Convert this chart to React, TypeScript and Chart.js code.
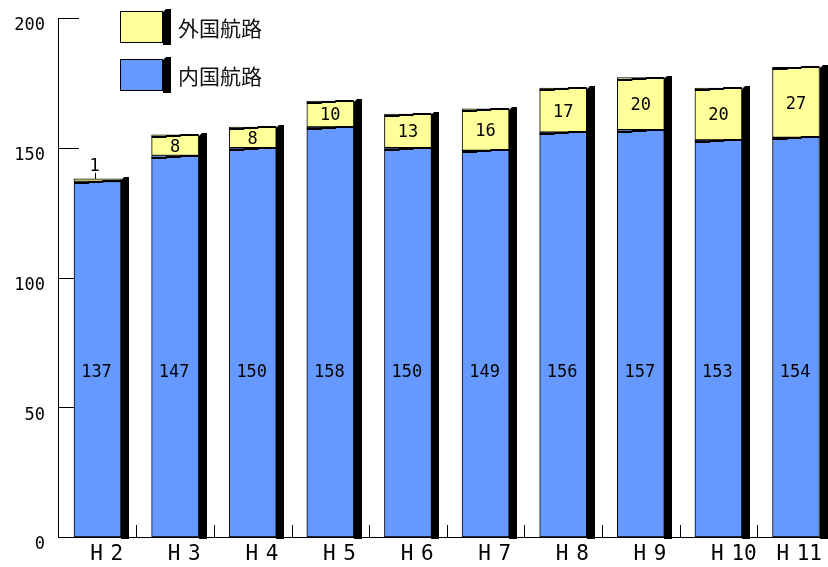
import { useEffect, useRef } from "react";
import { Chart, registerables } from "chart.js";

Chart.register(...registerables);

// Heisei years on the horizontal axis and their printed labels
const YEARS = [2, 3, 4, 5, 6, 7, 8, 9, 10, 11];
const CATEGORIES = ["H 2", "H 3", "H 4", "H 5", "H 6", "H 7", "H 8", "H 9", "H 10", "H 11"];
// Number of routes per year
const DOMESTIC = [137, 147, 150, 158, 150, 149, 156, 157, 153, 154];
const FOREIGN = [1, 8, 8, 10, 13, 16, 17, 20, 20, 27];
const Y_TICKS = [0, 50, 100, 150, 200];
const SERIES_NAMES = ["内国航路", "外国航路"];
const COLORS = ["#6699ff", "#ffff99"];

const MONO = "'DejaVu Sans Mono', monospace";
const CJK = "'Noto Sans CJK JP', 'Noto Sans', sans-serif";

// Draws the black depth face on the right of a box
function depthFace(ctx: CanvasRenderingContext2D, right: number, top: number, bottom: number) {
  ctx.beginPath();
  ctx.moveTo(right, top + 1);
  ctx.lineTo(right + 3, top - 2);
  ctx.lineTo(right + 8, top - 2);
  ctx.lineTo(right + 8, bottom);
  ctx.lineTo(right, bottom);
  ctx.closePath();
  ctx.fill();
}

const decorPlugin = {
  id: "decor",
  beforeDatasetsDraw(chart: any) {
    const { ctx, chartArea } = chart;
    const x = chart.scales.x;
    const y = chart.scales.y;
    const base = Math.round(y.getPixelForValue(0));
    ctx.save();
    ctx.strokeStyle = "#000";
    ctx.lineWidth = 1;
    // inward tick marks on the value axis
    Y_TICKS.forEach((v) => {
      const py = Math.round(y.getPixelForValue(v)) + 0.5;
      ctx.beginPath();
      ctx.moveTo(chartArea.left, py);
      ctx.lineTo(chartArea.left + 21, py);
      ctx.stroke();
    });
    // short upward ticks between the years
    YEARS.forEach((yr) => {
      const px = Math.round(x.getPixelForValue(yr + 0.5)) + 0.5;
      ctx.beginPath();
      ctx.moveTo(px, base - 12);
      ctx.lineTo(px, base);
      ctx.stroke();
    });
    ctx.restore();
  },
  afterDatasetsDraw(chart: any) {
    const { ctx } = chart;
    const y = chart.scales.y;
    const base = y.getPixelForValue(0);
    const lower = chart.getDatasetMeta(0).data;
    const upper = chart.getDatasetMeta(1).data;
    ctx.save();
    ctx.fillStyle = "#000";
    upper.forEach((bar: any) => {
      const p = bar.getProps(["x", "y", "width"], true);
      depthFace(ctx, Math.round(p.x + p.width / 2), Math.round(p.y), base + 2);
    });

    // darker top edges of each segment with a small perspective step
    ctx.strokeStyle = "#000";
    [lower, upper].forEach((bars) => {
      bars.forEach((bar: any) => {
        const p = bar.getProps(["x", "y", "width", "base"], true);
        if (p.base - p.y < 6) return;
        const l = p.x - p.width / 2;
        const r = p.x + p.width / 2;
        const t = Math.round(p.y);
        ctx.lineWidth = 2;
        ctx.beginPath();
        ctx.moveTo(l, t + 2);
        ctx.lineTo(l + p.width * 0.3, t + 2);
        ctx.lineTo(l + p.width * 0.3 + 1, t + 1);
        ctx.lineTo(l + p.width * 0.6, t + 1);
        ctx.lineTo(l + p.width * 0.6 + 1, t);
        ctx.lineTo(r, t);
        ctx.stroke();
      });
    });

    ctx.fillStyle = "#000";
    ctx.textAlign = "center";
    ctx.textBaseline = "middle";
    ctx.font = `17px ${MONO}`;
    // domestic counts sit at a common height inside the blue part
    lower.forEach((bar: any, i: number) => {
      const p = bar.getProps(["x"], true);
      ctx.fillText(String(DOMESTIC[i]), p.x - 1, y.getPixelForValue(63.5));
    });
    // foreign counts inside the yellow part, or above it when too thin
    upper.forEach((bar: any, i: number) => {
      const p = bar.getProps(["x", "y", "base"], true);
      const h = p.base - p.y;
      if (h > 14) {
        ctx.fillText(String(FOREIGN[i]), p.x, (p.y + p.base) / 2 + 2);
      } else {
        const lx = p.x - 3;
        ctx.fillText(String(FOREIGN[i]), lx, p.y - 12);
        ctx.strokeStyle = "#000";
        ctx.lineWidth = 1;
        ctx.beginPath();
        ctx.moveTo(Math.round(lx) + 0.5, p.y - 6);
        ctx.lineTo(Math.round(lx) + 0.5, p.y);
        ctx.stroke();
      }
    });
    ctx.restore();
  },
  afterDraw(chart: any) {
    const { ctx } = chart;
    const x = chart.scales.x;
    ctx.save();
    // year labels: the era letter under the bar, the number to its right
    ctx.fillStyle = "#000";
    ctx.font = `21px ${MONO}`;
    ctx.textBaseline = "middle";
    YEARS.forEach((yr, i) => {
      const [era, num] = CATEGORIES[i].split(" ");
      const cx = x.getPixelForValue(yr);
      const numW = ctx.measureText(num).width;
      const numX = Math.min(cx + 13, chart.width - 6 - numW);
      const eraX = Math.min(cx, numX - 14);
      ctx.textAlign = "center";
      ctx.fillText(era, eraX, 555);
      ctx.textAlign = "left";
      ctx.fillText(num, numX, 555);
    });

    // legend: foreign on top, domestic below
    const entries = [
      { name: SERIES_NAMES[1], color: COLORS[1], top: 11 },
      { name: SERIES_NAMES[0], color: COLORS[0], top: 59 },
    ];
    entries.forEach((e) => {
      ctx.fillStyle = e.color;
      ctx.fillRect(120, e.top, 43, 32);
      ctx.strokeStyle = "#000";
      ctx.lineWidth = 1;
      ctx.strokeRect(120.5, e.top + 0.5, 42, 31);
      ctx.fillStyle = "#000";
      depthFace(ctx, 163, e.top, e.top + 34);
      ctx.fillStyle = "#111";
      ctx.font = `21px ${CJK}`;
      ctx.textAlign = "left";
      ctx.textBaseline = "middle";
      ctx.fillText(e.name, 178, e.top + 17);
    });
    ctx.restore();
  },
};

export default function App() {
  const ref = useRef<HTMLCanvasElement>(null);

  useEffect(() => {
    const chart = new Chart(ref.current!, {
      type: "bar",
      data: {
        datasets: [
          {
            label: SERIES_NAMES[0],
            data: DOMESTIC.map((v, i) => ({ x: YEARS[i], y: v })),
            backgroundColor: COLORS[0],
            borderColor: "#000",
            borderWidth: 1,
            borderSkipped: false,
            barThickness: 47,
          },
          {
            label: SERIES_NAMES[1],
            data: FOREIGN.map((v, i) => ({ x: YEARS[i], y: v })),
            backgroundColor: COLORS[1],
            borderColor: "#000",
            borderWidth: 1,
            borderSkipped: false,
            barThickness: 47,
          },
        ],
      },
      options: {
        animation: false,
        responsive: false,
        devicePixelRatio: 1,
        layout: { padding: { top: 18, right: 0, bottom: 0, left: 0 } },
        plugins: {
          legend: { display: false },
          tooltip: { enabled: false },
        },
        scales: {
          x: {
            type: "linear",
            stacked: true,
            offset: false,
            min: 1.491,
            max: 11.412,
            grid: { display: false, drawTicks: false },
            border: { display: true, color: "#000", width: 1 },
            ticks: { display: false },
            afterFit: (scale: any) => {
              scale.height = 30;
              scale.paddingLeft = 0;
              scale.paddingRight = 0;
            },
          },
          y: {
            stacked: true,
            min: 0,
            max: 200,
            grid: { display: false, drawTicks: false },
            border: { display: true, color: "#000", width: 1 },
            ticks: {
              stepSize: 50,
              padding: 13,
              labelOffset: 8,
              color: "#000",
              font: { family: MONO, size: 17 },
            },
            afterFit: (scale: any) => {
              scale.width = 58;
              scale.paddingTop = 0;
              scale.paddingBottom = 0;
            },
          },
        },
      },
      plugins: [decorPlugin],
    } as any);
    return () => chart.destroy();
  }, []);

  return (
    <div style={{ position: "absolute", left: 0, top: 0, width: 828, height: 567, background: "#fff" }}>
      <canvas ref={ref} width={828} height={567} style={{ display: "block" }} />
    </div>
  );
}
